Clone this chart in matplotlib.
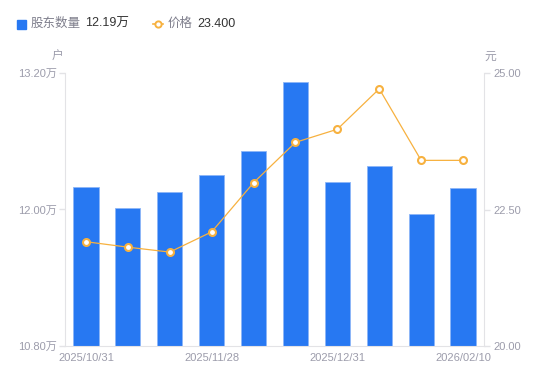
import matplotlib
matplotlib.use('Agg')
import matplotlib.pyplot as plt
import numpy as np

plt.rcParams['font.family'] = ['Liberation Sans', 'Noto Sans CJK SC', 'DejaVu Sans']

# data
dates = ['2025/10/31', '2025/11/07', '2025/11/14', '2025/11/28', '2025/12/10',
         '2025/12/19', '2025/12/31', '2026/01/16', '2026/01/30', '2026/02/10']
holders = [12.20, 12.01, 12.15, 12.30, 12.51, 13.12, 12.24, 12.38, 11.96, 12.19]  # 万户
price = [21.91, 21.81, 21.72, 22.09, 22.99, 23.73, 23.97, 24.71, 23.40, 23.40]
shown_labels = [0, 3, 6, 9]

blue = '#2778F2'
orange = '#F7B13F'
axis_gray = '#E3E3E6'
text_gray = '#9C9CAB'
dark = '#333333'

fig = plt.figure(figsize=(5.5, 3.81), dpi=100)
ax = fig.add_axes([65 / 550, 1 - 346 / 381, 419 / 550, 273 / 381])
ax2 = ax.twinx()

x = np.arange(len(dates))
ax.bar(x, holders, width=0.6, color=blue, edgecolor='#8DB6F7', linewidth=0.6, zorder=2)
ax.set_xlim(-0.5, len(dates) - 0.5)
ax.set_ylim(10.8, 13.2)
ax.set_yticks([10.8, 12.0, 13.2])
ax.set_yticklabels([f'{v:.2f}万' for v in [10.8, 12.0, 13.2]])

ax2.plot(x, price, color=orange, linewidth=0.9, marker='o', markersize=5,
         markerfacecolor='white', markeredgecolor=orange, markeredgewidth=1.5, zorder=3)
ax2.set_ylim(20, 25)
ax2.set_yticks([20, 22.5, 25])
ax2.set_yticklabels([f'{v:.2f}' for v in [20, 22.5, 25]])

ax.set_xticks([x[i] for i in shown_labels])
ax.set_xticklabels([dates[i] for i in shown_labels])

for a in (ax, ax2):
    for s in a.spines.values():
        s.set_visible(False)
    a.tick_params(colors=axis_gray, labelcolor=text_gray, labelsize=8, length=4, width=1)
ax.spines['left'].set_visible(True)
ax.spines['left'].set_color(axis_gray)
ax.spines['bottom'].set_visible(True)
ax.spines['bottom'].set_color(axis_gray)
ax2.spines['right'].set_visible(True)
ax2.spines['right'].set_color(axis_gray)
ax.tick_params(axis='x', length=0, pad=5)
ax.tick_params(axis='y', pad=2)
ax2.tick_params(axis='y', pad=3)

# unit labels
fig.text(58 / 550, 1 - 57 / 381, '户', color=text_gray, fontsize=8.5, ha='center', va='center')
fig.text(490 / 550, 1 - 57 / 381, '元', color=text_gray, fontsize=8.5, ha='center', va='center')

# legend row
ly = 1 - 24 / 381
fig.patches.append(plt.Rectangle((17 / 550, 1 - 28.5 / 381), 9 / 550, 9 / 381,
                                 transform=fig.transFigure, color=blue))
fig.text(31 / 550, ly, '股东数量', color='#7E7E8C', fontsize=9, va='center')
fig.text(85 / 550, ly, f'{holders[-1]:.2f}万', color=dark, fontsize=9, va='center')
fig.lines.append(plt.Line2D([153 / 550, 163 / 550], [ly, ly], transform=fig.transFigure,
                            color=orange, linewidth=1.2))
fig.lines.append(plt.Line2D([158 / 550], [ly], transform=fig.transFigure, color=orange,
                            marker='o', markersize=4.5, markerfacecolor='white',
                            markeredgewidth=1.4, linestyle='none'))
fig.text(168 / 550, ly, '价格', color='#7E7E8C', fontsize=9, va='center')
fig.text(197 / 550, ly, f'{price[-1]:.3f}', color=dark, fontsize=9, va='center')

fig.savefig('out.png', dpi=100)
